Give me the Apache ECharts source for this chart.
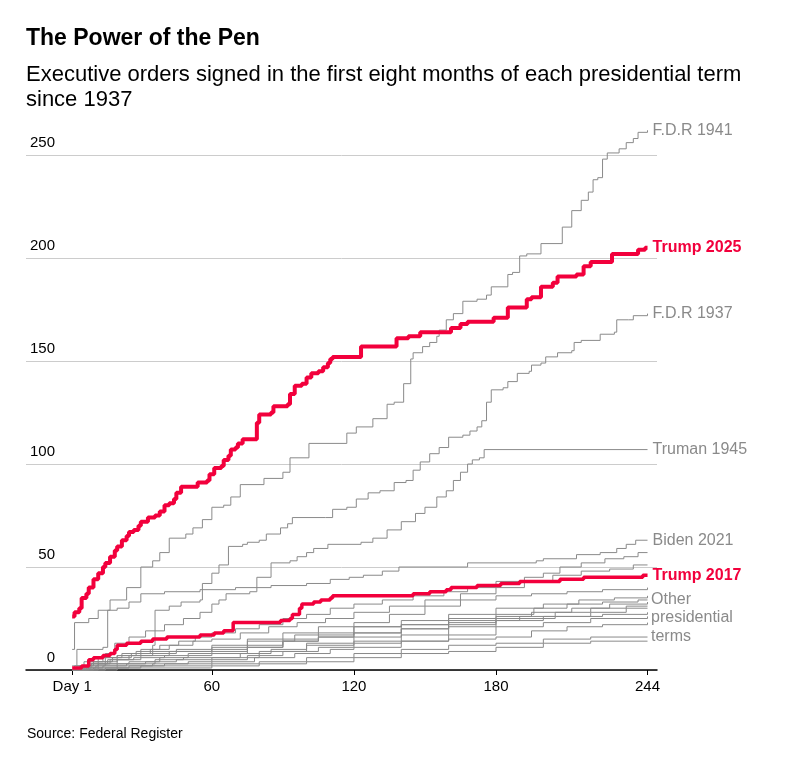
<!DOCTYPE html>
<html lang="en">
<head>
    <meta charset="UTF-8">
    <title>The Power of the Pen</title>
    <script src="https://cdn.jsdelivr.net/npm/echarts@6/dist/echarts.min.js"></script>
    <style>
        html, body {
            margin: 0;
            padding: 0;
            background: #fff;
        }

        #chart {
            width: 787px;
            height: 762px;
        }
    </style>
</head>
<body>
<div id="chart"></div>
<script>
    // [day, cumulative executive orders]
    var trump2025 = [[1, 26], [2, 28], [4, 30], [5, 35], [7, 37], [8, 40], [10, 44], [12, 47], [14, 50], [15, 52], [17, 55], [19, 58], [20, 60], [22, 63], [24, 65], [25, 67], [27, 68], [29, 70], [30, 72], [33, 74], [36, 75], [38, 77], [40, 80], [42, 81], [44, 83], [45, 86], [47, 89], [54, 91], [58, 92], [59, 95], [61, 98], [64, 99], [65, 102], [67, 104], [68, 107], [70, 108], [71, 110], [73, 112], [79, 120], [80, 124], [85, 125], [86, 128], [92, 129], [93, 134], [95, 138], [98, 139], [100, 142], [102, 144], [105, 145], [107, 147], [109, 149], [110, 151], [111, 152], [123, 157], [138, 161], [143, 162], [148, 164], [161, 166], [165, 168], [168, 169], [179, 171], [185, 176], [193, 180], [195, 181], [199, 186], [204, 188], [206, 191], [214, 192], [217, 196], [220, 198], [229, 202], [240, 204], [243, 205], [244, 205]];
    var trump2017 = [[1, 1], [3, 1], [5, 2], [8, 5], [10, 6], [14, 7], [17, 8], [19, 10], [20, 12], [24, 13], [30, 14], [35, 15], [41, 16], [55, 17], [61, 18], [65, 19], [69, 23], [86, 23], [89, 24], [93, 25], [94, 27], [97, 30], [98, 32], [103, 33], [106, 34], [110, 35], [111, 36], [144, 36], [145, 37], [152, 38], [159, 39], [161, 40], [172, 41], [179, 41], [182, 42], [190, 43], [207, 44], [214, 44], [217, 45], [242, 46], [244, 46]];
    var fdr1941 = [[1, 10], [2, 23], [8, 25], [12, 29], [17, 34], [24, 40], [30, 50], [35, 53], [38, 57], [42, 64], [49, 66], [52, 69], [56, 73], [60, 79], [65, 80], [68, 84], [72, 90], [82, 93], [90, 96], [93, 103], [101, 110], [117, 115], [121, 118], [128, 122], [134, 129], [137, 130], [141, 139], [144, 151], [145, 154], [149, 157], [152, 159], [155, 162], [156, 165], [159, 170], [162, 173], [166, 179], [172, 180], [176, 182], [178, 186], [185, 192], [187, 193], [190, 201], [193, 202], [199, 207], [208, 215], [212, 223], [216, 228], [219, 232], [221, 238], [223, 239], [225, 248], [227, 251], [232, 253], [235, 256], [238, 258], [240, 261], [244, 262]];
    var fdr1937 = [[1, 0], [5, 2], [12, 4], [20, 7], [28, 9], [35, 12], [36, 29], [42, 31], [47, 33], [55, 34], [56, 42], [60, 47], [63, 51], [67, 60], [73, 61], [75, 62], [80, 63], [83, 66], [89, 69], [92, 71], [94, 74], [108, 74], [111, 78], [117, 79], [121, 83], [126, 86], [131, 87], [137, 91], [142, 92], [145, 97], [148, 101], [152, 105], [156, 108], [160, 113], [166, 114], [169, 116], [172, 118], [174, 121], [176, 130], [178, 136], [183, 137], [185, 140], [189, 144], [194, 145], [195, 148], [199, 149], [201, 152], [206, 154], [212, 155], [213, 159], [216, 160], [224, 163], [230, 164], [231, 170], [236, 170], [238, 172], [244, 173]];
    var truman1945 = [[1, 0], [8, 3], [15, 8], [19, 13], [25, 16], [32, 19], [40, 22], [48, 25], [55, 28], [60, 32], [63, 34], [66, 37], [76, 38], [79, 45], [85, 52], [93, 53], [96, 55], [100, 57], [103, 59], [109, 61], [123, 62], [128, 64], [134, 68], [140, 72], [146, 76], [150, 79], [155, 84], [159, 87], [162, 92], [165, 96], [168, 100], [170, 102], [173, 103], [175, 107], [244, 107]];
    var biden2021 = [[1, 2], [3, 10], [14, 11], [16, 29], [20, 30], [25, 33], [30, 37], [40, 38], [55, 39], [70, 40], [85, 41], [100, 42], [110, 44], [118, 45], [124, 46], [132, 48], [139, 50], [168, 52], [197, 53], [200, 54], [214, 56], [224, 57], [231, 59], [235, 61], [239, 63], [244, 63]];

    var otherTerms = [
        [[1, 0], [3, 2], [8, 4], [14, 6], [22, 8], [30, 10], [38, 12], [46, 14], [53, 16], [60, 18], [70, 20], [80, 22], [90, 25], [100, 27], [110, 30], [120, 32], [132, 34], [145, 36], [158, 38], [168, 40], [180, 43], [192, 45], [200, 47], [207, 50], [216, 52], [226, 54], [234, 55], [240, 57], [244, 57]],
        [[1, 0], [5, 2], [10, 4], [18, 6], [26, 8], [34, 10], [42, 12], [52, 14], [60, 15], [72, 18], [84, 21], [96, 23], [108, 25], [120, 28], [135, 31], [150, 34], [165, 37], [180, 40], [192, 43], [204, 46], [216, 48], [228, 49], [238, 51], [244, 51]],
        [[1, 0], [4, 2], [9, 3], [16, 5], [25, 7], [35, 9], [45, 10], [60, 12], [75, 15], [90, 18], [105, 21], [120, 23], [135, 27], [150, 31], [165, 34], [180, 36], [195, 37], [210, 38], [225, 39], [244, 40]],
        [[1, 0], [6, 1], [12, 3], [20, 5], [30, 7], [42, 9], [60, 11], [75, 14], [95, 17], [120, 21], [140, 24], [160, 27], [180, 30], [200, 32], [215, 34], [230, 35], [244, 36]],
        [[1, 0], [3, 1], [8, 2], [15, 3], [25, 4], [38, 6], [50, 7], [60, 8], [75, 11], [90, 14], [105, 16], [120, 18], [140, 22], [160, 25], [180, 27], [196, 30], [210, 32], [225, 33], [240, 34], [244, 34]],
        [[1, 0], [7, 1], [14, 2], [24, 3], [36, 5], [48, 6], [72, 8], [85, 10], [100, 13], [120, 16], [140, 20], [160, 24], [180, 26], [195, 28], [212, 30], [228, 32], [244, 33]],
        [[1, 0], [2, 2], [6, 4], [12, 6], [20, 7], [30, 8], [45, 9], [60, 10], [75, 12], [90, 15], [105, 18], [120, 21], [140, 22], [160, 23], [180, 24], [190, 26], [205, 28], [220, 30], [235, 31], [244, 31]],
        [[1, 0], [10, 1], [20, 2], [35, 3], [50, 4], [60, 5], [75, 7], [90, 9], [105, 11], [120, 14], [140, 17], [160, 21], [180, 24], [200, 26], [220, 28], [235, 30], [244, 30]],
        [[1, 0], [4, 1], [9, 3], [17, 5], [27, 6], [40, 7], [50, 8], [60, 9], [75, 11], [90, 14], [105, 16], [120, 18], [140, 20], [160, 22], [180, 25], [205, 26], [225, 27], [244, 28]],
        [[1, 0], [12, 1], [25, 2], [40, 3], [60, 4], [78, 6], [95, 8], [110, 10], [120, 11], [140, 14], [160, 17], [180, 21], [200, 23], [220, 25], [244, 26]],
        [[1, 0], [5, 1], [11, 2], [20, 3], [32, 4], [45, 5], [60, 6], [80, 9], [100, 12], [120, 13], [140, 14], [160, 15], [180, 16], [195, 19], [210, 21], [225, 22], [244, 23]],
        [[1, 0], [15, 1], [30, 2], [60, 3], [80, 4], [100, 6], [120, 8], [140, 10], [160, 12], [180, 13], [200, 15], [220, 16], [244, 16]],
        [[1, 0], [20, 1], [60, 2], [80, 3], [100, 4], [120, 6], [140, 8], [160, 9], [180, 11], [200, 13], [220, 14], [244, 14]]
    ];

    var xTicks = [1, 60, 120, 180, 244];
    var yTicks = [0, 50, 100, 150, 200, 250];

    var RED = '#f2003c', GREY = '#8a8a8a', LABEL_GREY = '#8a8a8a';
    var FONT = '"Liberation Sans", Arial, sans-serif';

    function greyLine(name, data, label) {
        var s = {
            name: name,
            type: 'line',
            step: 'end',
            data: data,
            showSymbol: false,
            clip: false,
            silent: true,
            z: 2,
            lineStyle: {color: GREY, width: 1}
        };
        if (label) {
            s.endLabel = {
                show: true,
                formatter: label,
                color: LABEL_GREY,
                fontFamily: FONT,
                fontSize: 16,
                distance: 5
            };
        }
        return s;
    }

    function redLine(name, data, width) {
        return {
            name: name,
            type: 'line',
            step: 'end',
            data: data,
            showSymbol: false,
            clip: false,
            silent: true,
            z: 5,
            lineStyle: {color: RED, width: width},
            endLabel: {
                show: true,
                formatter: name,
                color: RED,
                fontFamily: FONT,
                fontWeight: 'bold',
                fontSize: 16,
                distance: 5
            }
        };
    }

    var series = [];
    for (var i = 0; i < otherTerms.length; ++i) {
        series.push(greyLine('other' + i, otherTerms[i]));
    }
    series.push(greyLine('F.D.R 1941', fdr1941, 'F.D.R 1941'));
    series.push(greyLine('F.D.R 1937', fdr1937, 'F.D.R 1937'));
    series.push(greyLine('Truman 1945', truman1945, 'Truman 1945'));
    series.push(greyLine('Biden 2021', biden2021, 'Biden 2021'));
    series.push(redLine('Trump 2017', trump2017, 3.5));
    series.push(redLine('Trump 2025', trump2025, 4));

    var chart = echarts.init(document.getElementById('chart'));
    chart.setOption({
        animation: false,
        backgroundColor: '#fff',
        textStyle: {fontFamily: FONT},
        title: [{
            text: 'The Power of the Pen',
            subtext: 'Executive orders signed in the first eight months of each presidential term\nsince 1937',
            left: 26,
            top: 27,
            itemGap: 12,
            padding: 0,
            textStyle: {fontFamily: FONT, fontSize: 23, fontWeight: 'bold', color: '#000'},
            subtextStyle: {fontFamily: FONT, fontSize: 22, lineHeight: 25, color: '#000'}
        }, {
            text: 'Source: Federal Register',
            left: 27,
            top: 727,
            padding: 0,
            textStyle: {fontFamily: FONT, fontSize: 14, fontWeight: 'normal', color: '#000'}
        }],
        grid: {left: 26, right: 130, top: 155, bottom: 92},
        xAxis: {
            type: 'value',
            min: -18.5,
            max: 248,
            splitLine: {show: false},
            axisLine: {show: true, lineStyle: {color: '#000', width: 1.5}},
            axisTick: {show: true, customValues: xTicks, length: 5, lineStyle: {color: '#000', width: 1}},
            axisLabel: {
                customValues: xTicks,
                margin: 9,
                fontFamily: FONT,
                fontSize: 15,
                color: '#000',
                formatter: function (v) {
                    return v === 1 ? 'Day 1' : String(v);
                }
            }
        },
        yAxis: {
            type: 'value',
            min: 0,
            max: 250,
            interval: 50,
            axisLine: {show: false},
            axisTick: {show: false},
            splitLine: {show: true, lineStyle: {color: '#cccccc', width: 1}},
            axisLabel: {
                inside: true,
                margin: 29,
                align: 'right',
                verticalAlign: 'bottom',
                padding: [0, 0, 5, 0],
                fontFamily: FONT,
                fontSize: 15,
                color: '#000',
                customValues: yTicks
            }
        },
        graphic: [{
            type: 'text',
            left: 651,
            top: 590,
            style: {
                text: 'Other\npresidential\nterms',
                fill: LABEL_GREY,
                font: '16px ' + FONT,
                lineHeight: 18.5
            }
        }],
        series: series
    });
</script>
</body>
</html>
